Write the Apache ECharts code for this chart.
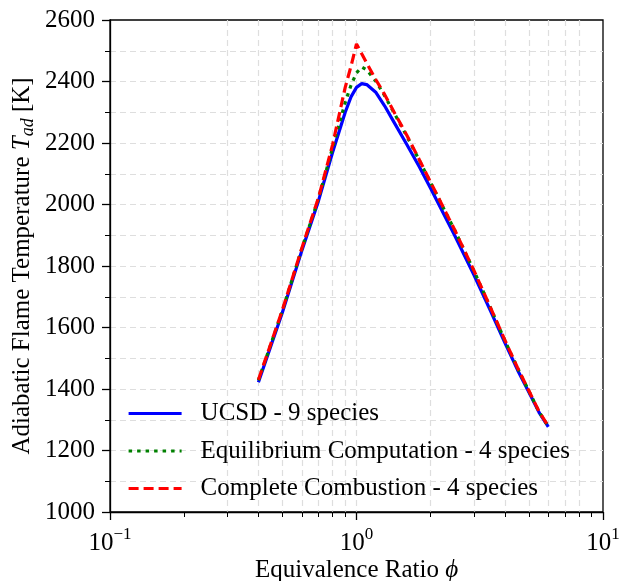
<!DOCTYPE html>
<html>
<head>
<meta charset="utf-8">
<script src="https://cdn.jsdelivr.net/npm/echarts@6/dist/echarts.min.js"></script>
<style>html,body{margin:0;padding:0;background:#fff}#c{width:620px;height:581px}</style>
</head>
<body>
<div id="c"></div>
<script>
// ---- data ----
var phi      = [0.4, 0.5, 0.6, 0.7, 0.8, 0.9, 0.95, 1.0, 1.05, 1.1, 1.2, 1.3, 1.4, 1.6, 1.8, 2.0, 2.5, 3.0, 3.5, 4.0, 4.5, 5.0, 5.5, 6.0];
var ucsd     = [1422, 1648, 1850, 2010, 2170, 2300, 2350, 2381, 2393, 2390, 2364, 2321, 2276, 2195, 2122, 2052, 1900, 1770, 1653, 1550, 1462, 1390, 1324, 1277];
var equil    = [1428, 1654, 1856, 2017, 2185, 2332, 2388, 2428, 2447, 2438, 2400, 2354, 2307, 2222, 2143, 2070, 1917, 1783, 1663, 1558, 1468, 1394, 1326, 1278];
var complete = [1430, 1656, 1858, 2020, 2195, 2381, 2450, 2522, 2490, 2460, 2405, 2358, 2310, 2225, 2145, 2072, 1918, 1784, 1664, 1559, 1469, 1395, 1327, 1279];
var seriesNames = ['UCSD - 9 species', 'Equilibrium Computation - 4 species', 'Complete Combustion - 4 species'];
var xMajorTicks = [0.1, 1, 10];
var xMinorTicks = [0.2, 0.3, 0.4, 0.5, 0.6, 0.7, 0.8, 0.9, 2, 3, 4, 5, 6, 7, 8, 9];
var yMin = 1000, yMax = 2600, yStep = 200;

function pairs(xs, ys) { return xs.map(function (x, i) { return [x, ys[i]]; }); }

var FONT = 'Liberation Serif';
var gridLine = { show: true, showMinLine: false, showMaxLine: false, lineStyle: { color: '#dedede', width: 1.2, type: [6, 4] } };

var chart = echarts.init(document.getElementById('c'), null, { renderer: 'canvas' });
chart.setOption({
  animation: false,
  backgroundColor: '#fff',
  grid: { left: 110, right: 17, top: 20, bottom: 69, show: true, borderColor: '#000', borderWidth: 1.3,
    containLabel: false, outerBoundsMode: 'none' },
  xAxis: [{
    type: 'log', logBase: 10, min: 0.1, max: 10, position: 'bottom',
    name: 'Equivalence Ratio {i|ϕ}', nameLocation: 'middle', nameGap: 46, nameMoveOverlap: false,
    nameTextStyle: { fontFamily: FONT, fontSize: 25, color: '#000',
      rich: { i: { fontFamily: FONT, fontSize: 25, fontStyle: 'italic', color: '#000' } } },
    axisLine: { show: true, lineStyle: { color: '#000', width: 1.3 } },
    axisTick: { show: true, inside: false, length: 8, customValues: xMajorTicks, lineStyle: { color: '#000', width: 1.3 } },
    axisLabel: {
      customValues: xMajorTicks, margin: 14, fontFamily: FONT, fontSize: 25, color: '#000',
      formatter: function (v) {
        var e = Math.round(Math.log10(v));
        return '{b|10}{s|' + (e < 0 ? '\u2212' + (-e) : e) + '}';
      },
      rich: {
        b: { fontFamily: FONT, fontSize: 25, color: '#000', lineHeight: 30, verticalAlign: 'bottom' },
        s: { fontFamily: FONT, fontSize: 17, color: '#000', lineHeight: 30, verticalAlign: 'top' }
      }
    },
    splitLine: gridLine,
    minorTick: { show: false }
  }, {
    type: 'log', logBase: 10, min: 0.1, max: 10, position: 'bottom',
    axisLine: { show: false },
    axisTick: { show: true, inside: false, length: 5, customValues: xMinorTicks, lineStyle: { color: '#000', width: 1 } },
    axisLabel: { show: false },
    splitLine: gridLine
  }],
  yAxis: {
    type: 'value', min: yMin, max: yMax, interval: yStep,
    name: 'Adiabatic Flame Temperature {i|T}{s|ad} [K]', nameLocation: 'middle', nameGap: 73, nameRotate: 90,
    nameMoveOverlap: false,
    nameTextStyle: { fontFamily: FONT, fontSize: 25, color: '#000', lineHeight: 30,
      rich: {
        i: { fontFamily: FONT, fontSize: 25, fontStyle: 'italic', color: '#000', lineHeight: 30 },
        s: { fontFamily: FONT, fontSize: 18, fontStyle: 'italic', color: '#000', lineHeight: 30, verticalAlign: 'bottom' }
      } },
    axisLine: { show: true, lineStyle: { color: '#000', width: 1.3 } },
    axisTick: { show: true, inside: false, length: 8, lineStyle: { color: '#000', width: 1.3 } },
    minorTick: { show: true, splitNumber: 2, length: 5, lineStyle: { color: '#000', width: 1 } },
    axisLabel: { margin: 15, fontFamily: FONT, fontSize: 25, color: '#000',
      formatter: function (v) { return String(v); } },
    splitLine: gridLine,
    minorSplitLine: gridLine
  },
  legend: {
    orient: 'vertical', left: 127, top: 401, padding: 0, itemWidth: 53, itemHeight: 14, itemGap: 12.5,
    data: seriesNames,
    itemStyle: { opacity: 0 },
    lineStyle: { width: 3.2 },
    textStyle: { fontFamily: FONT, fontSize: 25, color: '#000', lineHeight: 25, padding: [0, 0, 0, 14] }
  },
  series: [
    { name: seriesNames[0], type: 'line', xAxisIndex: 0, data: pairs(phi, ucsd), symbol: 'none', smooth: false,
      lineStyle: { color: '#0000ff', width: 3.2 }, itemStyle: { color: '#0000ff' }, z: 3 },
    { name: seriesNames[1], type: 'line', xAxisIndex: 0, data: pairs(phi, equil), symbol: 'none', smooth: false,
      lineStyle: { color: '#008000', width: 3.2, type: [3.5, 5] }, itemStyle: { color: '#008000' }, z: 4 },
    { name: seriesNames[2], type: 'line', xAxisIndex: 0, data: pairs(phi, complete), symbol: 'none', smooth: false,
      lineStyle: { color: '#ff0000', width: 3.2, type: [10, 5] }, itemStyle: { color: '#ff0000' }, z: 5 }
  ]
});
</script>
</body>
</html>
